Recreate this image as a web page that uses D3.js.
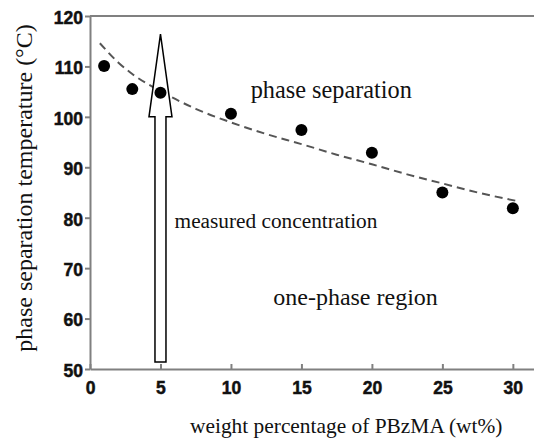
<!DOCTYPE html>
<html>
<head>
<meta charset="utf-8">
<script src="https://cdn.jsdelivr.net/npm/d3@7"></script>
<style>
  body { margin: 0; background: #fff; }
  .axis path, .axis line { stroke: #808080; stroke-width: 2px; }
  .axis text { font-family: "Liberation Sans", Arial, sans-serif !important; font-weight: 700 !important; font-size: 17.5px; fill: #111; stroke: #111; stroke-width: 0.5px; }
  .note { font-family: "Liberation Serif", "Times New Roman", serif; fill: #111; }
</style>
</head>
<body>
<script>
// measured points
const wt = [1, 3, 5, 10, 15, 20, 25, 30],
    temp = [110.1, 105.5, 104.8, 100.6, 97.4, 92.9, 85.0, 81.9];

// dashed guide curve
const curveX = [0.7, 2, 3, 5, 7.5, 10, 12.5, 15, 17.5, 20, 22.5, 25, 27.5, 30.5],
    curveT = [114.6, 110.8, 108.5, 105.1, 101.6, 98.9, 96.6, 94.6, 92.5, 90.6, 88.6, 86.8, 85.0, 83.2];

// arrow marking the measured concentration: x, bottom, head base, tip
const arrowX = 5, arrowFrom = 51.4, arrowHeadAt = 100, arrowTip = 116.4;

const xTicks = [0, 5, 10, 15, 20, 25, 30],
    yTicks = [50, 60, 70, 80, 90, 100, 110, 120];

const width = 534, height = 442;

const x = d3.scaleLinear().domain([0, 31.5]).range([90, 534]),
    y = d3.scaleLinear().domain([50, 120]).range([369, 16]);

const svg = d3.select("body").append("svg")
    .attr("width", width).attr("height", height);

// top frame line
svg.append("line")
    .attr("x1", x(0)).attr("x2", width)
    .attr("y1", y(120)).attr("y2", y(120))
    .attr("stroke", "#808080").attr("stroke-width", 2);

const xAxis = d3.axisBottom(x).tickValues(xTicks).tickSizeInner(-5).tickSizeOuter(0).tickPadding(13);
const yAxis = d3.axisLeft(y).tickValues(yTicks).tickSizeInner(5).tickSizeOuter(0).tickPadding(2);

svg.append("g").attr("class", "axis x")
    .attr("transform", "translate(0," + y(50) + ")")
    .call(xAxis);

svg.append("g").attr("class", "axis y")
    .attr("transform", "translate(" + x(0) + ",0)")
    .call(yAxis)
    .selectAll("text").attr("dy", "0.42em");

// guide curve
const line = d3.line()
    .x((d, i) => x(curveX[i]))
    .y((d, i) => y(curveT[i]))
    .curve(d3.curveMonotoneX);

svg.append("path")
    .attr("d", line(curveX))
    .attr("fill", "none")
    .attr("stroke", "#555")
    .attr("stroke-width", 2)
    .attr("stroke-dasharray", "8,5");

// arrow
const ax = x(arrowX), shaft = 5.5, head = 11.5;
svg.append("path")
    .attr("d", "M" + (ax - shaft) + "," + y(arrowFrom) +
        "L" + (ax - shaft) + "," + y(arrowHeadAt) +
        "L" + (ax - head) + "," + y(arrowHeadAt) +
        "L" + ax + "," + y(arrowTip) +
        "L" + (ax + head) + "," + y(arrowHeadAt) +
        "L" + (ax + shaft) + "," + y(arrowHeadAt) +
        "L" + (ax + shaft) + "," + y(arrowFrom) + "Z")
    .attr("fill", "#fff")
    .attr("stroke", "#000")
    .attr("stroke-width", 1.5);

// points
svg.selectAll("circle.pt")
    .data(wt)
    .join("circle")
    .attr("class", "pt")
    .attr("cx", d => x(d))
    .attr("cy", (d, i) => y(temp[i]))
    .attr("r", 6)
    .attr("fill", "#000");

// annotations
svg.append("text").attr("class", "note")
    .attr("x", x(11.4)).attr("y", y(103.8))
    .style("font-size", "24.3px")
    .text("phase separation");

svg.append("text").attr("class", "note")
    .attr("x", x(6.0)).attr("y", y(78))
    .style("font-size", "21.3px")
    .text("measured concentration");

svg.append("text").attr("class", "note")
    .attr("x", x(13.0)).attr("y", y(62.7))
    .style("font-size", "24px")
    .text("one-phase region");

// axis titles
svg.append("text").attr("class", "note")
    .attr("x", 190).attr("y", 433)
    .style("font-size", "21.4px")
    .text("weight percentage of PBzMA (wt%)");

svg.append("text").attr("class", "note")
    .attr("transform", "translate(32," + 188 + ") rotate(-90)")
    .attr("text-anchor", "middle")
    .style("font-size", "24px")
    .text("phase separation temperature (°C)");
</script>
</body>
</html>
